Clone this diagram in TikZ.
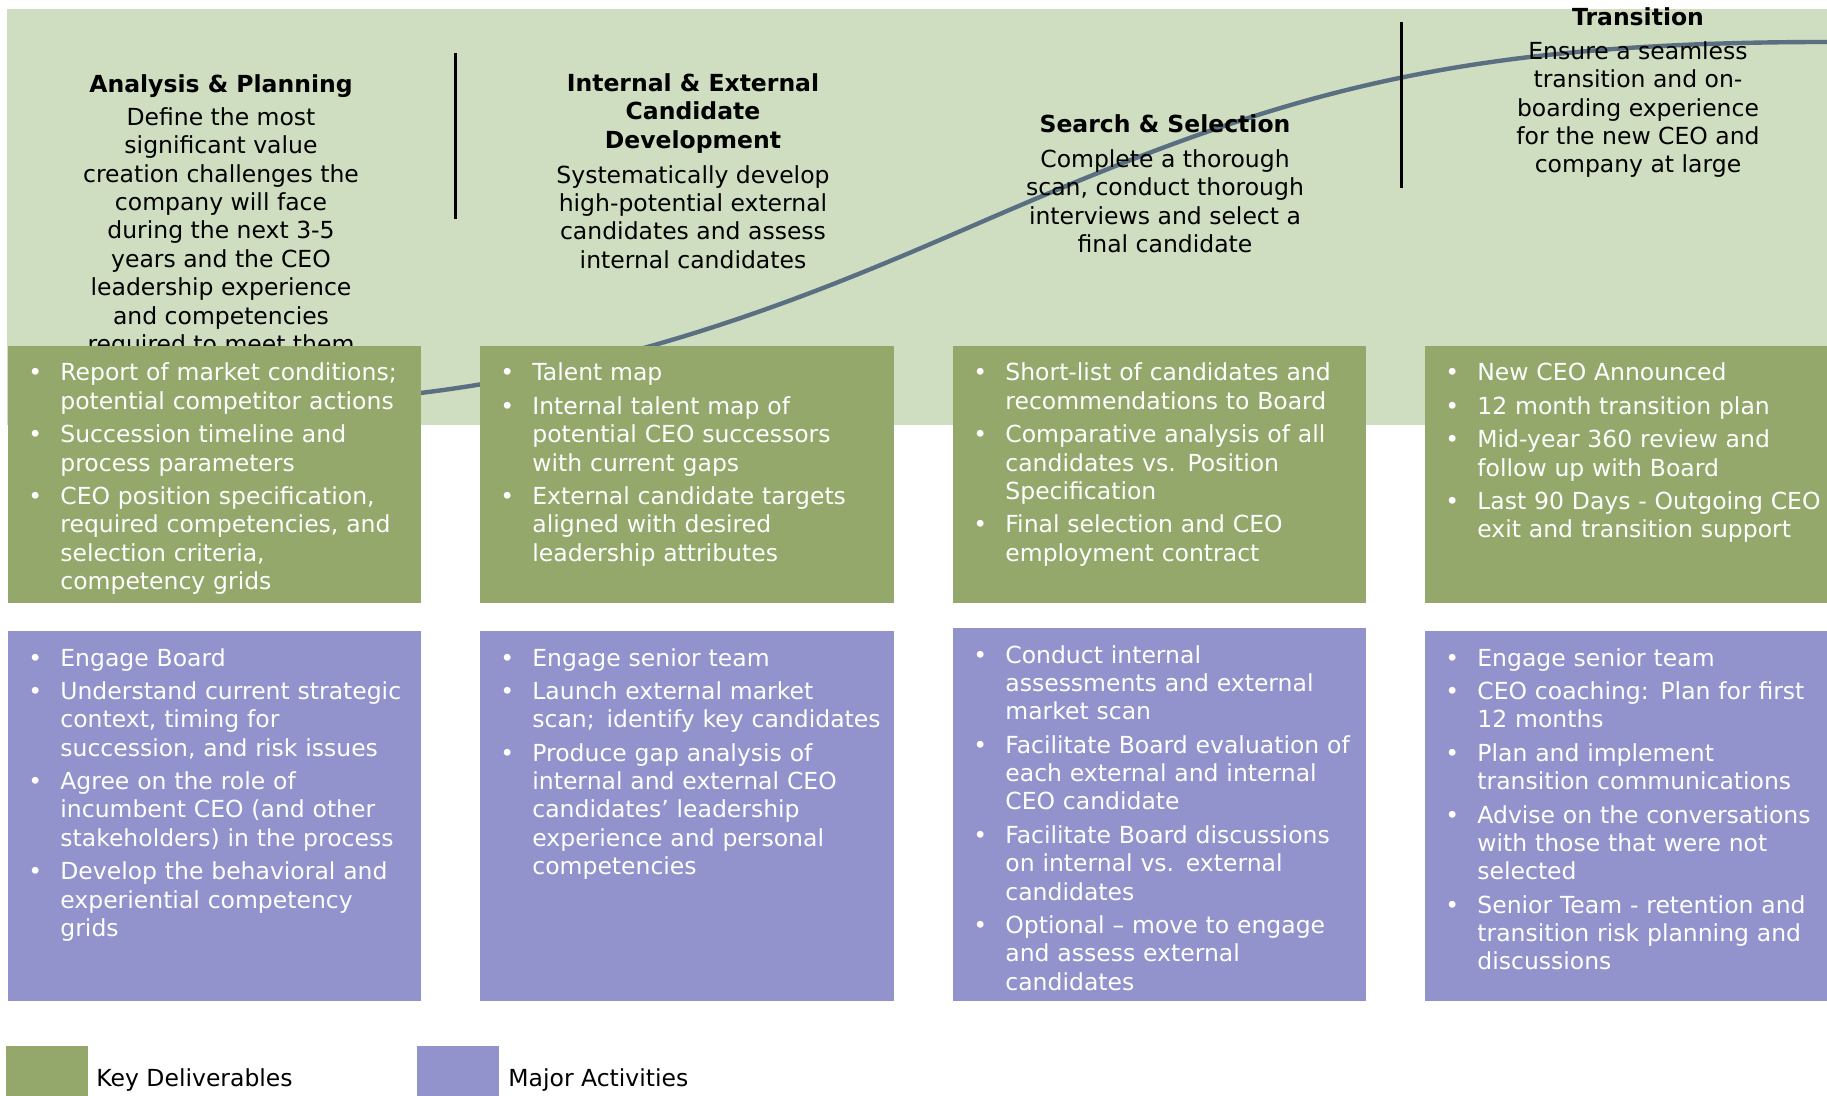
\documentclass[tikz,border=0pt]{standalone}
\usepackage{fontspec}
\setmainfont{DejaVu Sans}
\definecolor{paleband}{RGB}{207,221,192}
\definecolor{delivgreen}{RGB}{147,168,106}
\definecolor{actpurple}{RGB}{146,146,204}
\definecolor{curveslate}{RGB}{90,112,130}

% one bulleted item with a hanging indent; lines are broken by hand with \\
\newcommand{\bul}[1]{\hangindent=16pt\hangafter=1\noindent
  \makebox[16pt][l]{\textbullet}{\let\\\newline #1}\par}

\begin{document}
\begin{tikzpicture}[x=0.5pt,y=-0.5pt,
  band/.style={fill=paleband},
  deliv/.style={fill=delivgreen},
  act/.style={fill=actpurple},
  bodyfont/.style={font=\fontsize{11.75}{14.2}\selectfont},
  phase/.style={bodyfont, inner sep=0pt, anchor=north, align=center},
  items/.style={bodyfont, inner sep=0pt, anchor=base west, text width=200pt,
    text=white, execute at begin node={\raggedright\setlength{\parskip}{2.5pt}}},
  legendtext/.style={bodyfont, inner sep=0pt, anchor=base west},
  divider/.style={line width=1.5pt},
  trend/.style={curveslate, line width=2.2pt, line cap=round}
]
\useasboundingbox (0,0) rectangle (1827,1096);

% pale band behind the four phases
\path[band] (7,9) rectangle (1827,425);

% S-shaped progress curve, two smoothly joined Bezier arcs
\coordinate (c0) at (330,401);
\coordinate (c1) at (1000,214);
\coordinate (c2) at (1827,42);
\draw[trend] (c0) .. controls (620,385) and (850,278.5) .. (c1)
                  .. controls (1280,93.5) and (1450,42) .. (c2);

% phase headings
\node[phase] (h1) at (221,74) {\textbf{Analysis \& Planning}\\[2.3pt]
  Define the most\\ significant value\\ creation challenges the\\
  company will face\\ during the next 3-5\\ years and the CEO\\
  leadership experience\\ and competencies\\ required to meet them};
\node[phase] (h2) at (693,73) {\textbf{Internal \& External}\\ \textbf{Candidate}\\
  \textbf{Development}\\[3.3pt]
  Systematically develop\\ high-potential external\\ candidates and assess\\
  internal candidates};
\node[phase] (h3) at (1165,114) {\textbf{Search \& Selection}\\[3.3pt]
  Complete a thorough\\ scan, conduct thorough\\ interviews and select a\\
  final candidate};
\node[phase] (h4) at (1638,7) {\textbf{Transition}\\[2.8pt]
  Ensure a seamless\\ transition and on-\\ boarding experience\\
  for the new CEO and\\ company at large};

% phase dividers
\draw[divider] (455,53) -- (455,219);
\draw[divider] (1401,22) -- (1401,188);

% key deliverables row
\path[deliv] (8,346) rectangle (421,603);
\path[deliv] (480,346) rectangle (894,603);
\path[deliv] (953,346) rectangle (1366,603);
\path[deliv] (1425,346) rectangle (1827,603);

% major activities row
\path[act] (8,631) rectangle (421,1001);
\path[act] (480,631) rectangle (894,1001);
\path[act] (953,628) rectangle (1366,1001);
\path[act] (1425,631) rectangle (1827,1001);

% deliverables
\node[items] (d1) at (28,381) {%
  \bul{Report of market conditions;\\ potential competitor actions}%
  \bul{Succession timeline and\\ process parameters}%
  \bul{CEO position specification,\\ required competencies, and\\ selection criteria,\\ competency grids}};
\node[items] (d2) at (500,381) {%
  \bul{Talent map}%
  \bul{Internal talent map of\\ potential CEO successors\\ with current gaps}%
  \bul{External candidate targets\\ aligned with desired\\ leadership attributes}};
\node[items] (d3) at (973,381) {%
  \bul{Short-list of candidates and\\ recommendations to Board}%
  \bul{Comparative analysis of all\\ candidates vs. Position\\ Specification}%
  \bul{Final selection and CEO\\ employment contract}};
\node[items] (d4) at (1445,381) {%
  \bul{New CEO Announced}%
  \bul{12 month transition plan}%
  \bul{Mid-year 360 review and\\ follow up with Board}%
  \bul{Last 90 Days - Outgoing CEO\\ exit and transition support}};

% activities
\node[items] (a1) at (28,666) {%
  \bul{Engage Board}%
  \bul{Understand current strategic\\ context, timing for\\ succession, and risk issues}%
  \bul{Agree on the role of\\ incumbent CEO (and other\\ stakeholders) in the process}%
  \bul{Develop the behavioral and\\ experiential competency\\ grids}};
\node[items] (a2) at (500,666) {%
  \bul{Engage senior team}%
  \bul{Launch external market\\ scan;\hspace{0.5em}identify key candidates}%
  \bul{Produce gap analysis of\\ internal and external CEO\\ candidates’ leadership\\ experience and personal\\ competencies}};
\node[items] (a3) at (973,663) {%
  \bul{Conduct internal\\ assessments and external\\ market scan}%
  \bul{Facilitate Board evaluation of\\ each external and internal\\ CEO candidate}%
  \bul{Facilitate Board discussions\\ on internal vs. external\\ candidates}%
  \bul{Optional – move to engage\\ and assess external\\ candidates}};
\node[items] (a4) at (1445,666) {%
  \bul{Engage senior team}%
  \bul{CEO coaching: Plan for first\\ 12 months}%
  \bul{Plan and implement\\ transition communications}%
  \bul{Advise on the conversations\\ with those that were not\\ selected}%
  \bul{Senior Team - retention and\\ transition risk planning and\\ discussions}};

% legend
\path[deliv] (6,1046) rectangle (88,1096);
\node[legendtext] (k1) at (96,1086) {Key Deliverables};
\path[act] (417,1046) rectangle (499,1096);
\node[legendtext] (k2) at (508,1086) {Major Activities};
\end{tikzpicture}
\end{document}
